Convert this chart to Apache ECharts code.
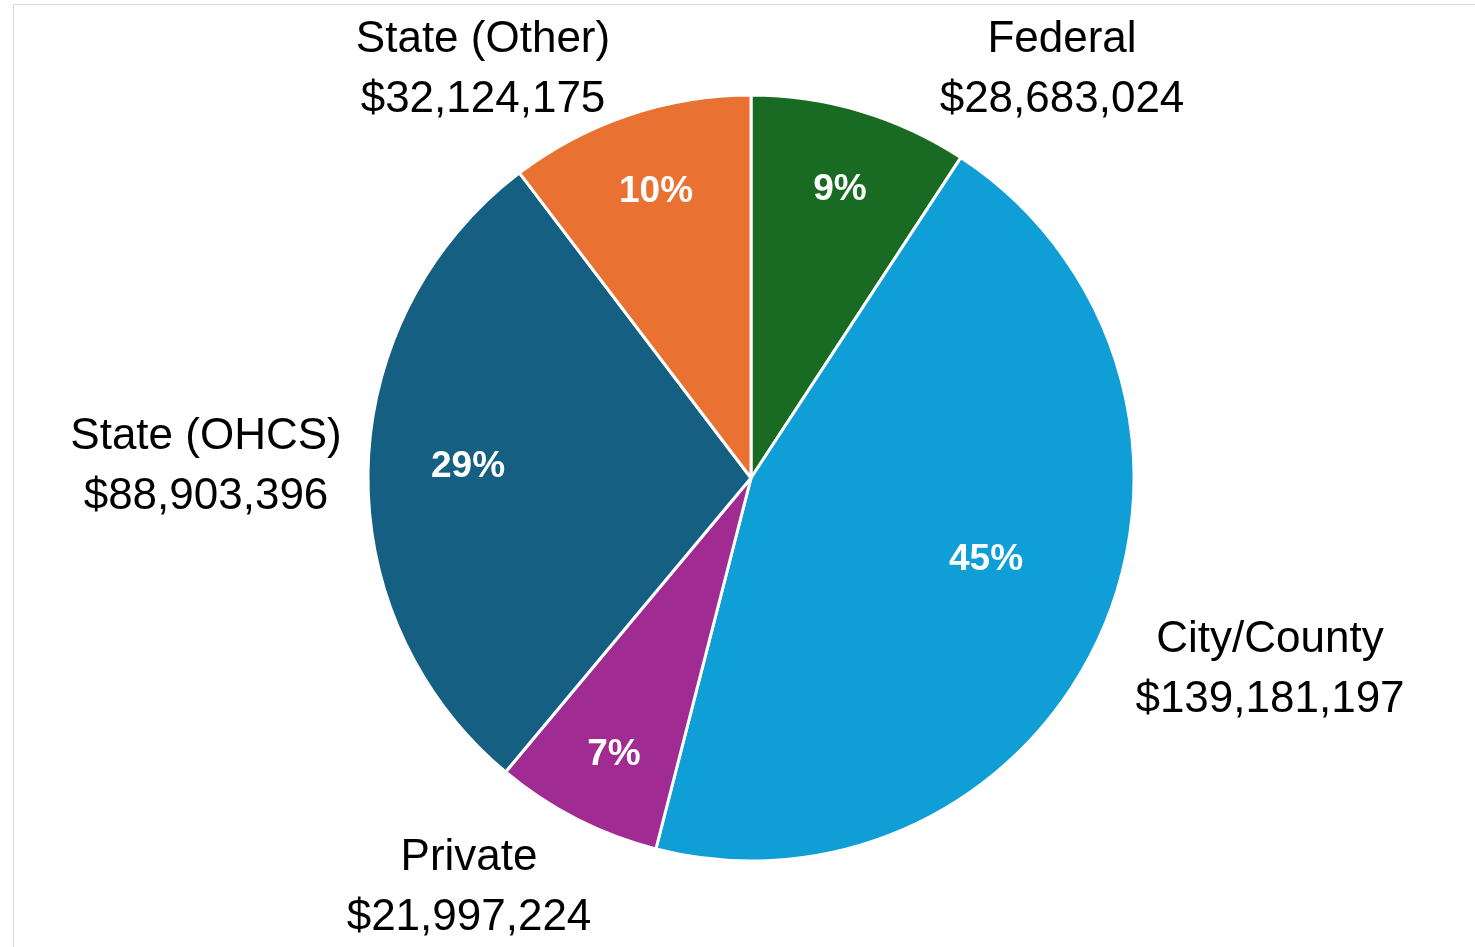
<!DOCTYPE html>
<html>
<head>
<meta charset="utf-8">
<script src="https://cdn.jsdelivr.net/npm/echarts@6/dist/echarts.min.js"></script>
<style>
  html, body { margin: 0; padding: 0; background: #fff; overflow: hidden; }
  #frame { position: absolute; left: 13px; top: 4px; width: 1500px; height: 1000px; border: 1px solid #d9d9d9; box-sizing: border-box; }
  #main { position: absolute; left: 0; top: 0; width: 1475px; height: 947px; }
</style>
</head>
<body>
<div id="frame"></div>
<div id="main"></div>
<script>
// data, clockwise from 12 o'clock
var names = ['Federal', 'City/County', 'Private', 'State (OHCS)', 'State (Other)'];
var amounts = [28683024, 139181197, 21997224, 88903396, 32124175];
var colors = ['#196B24', '#0F9ED5', '#A02B93', '#156082', '#E97132'];

// label spots (Excel "best fit" placement)
var outerPos = [[1062, 70], [1270, 670], [469, 888], [206, 467], [483, 70]];
var innerPos = [[840, 190], [986, 560], [614, 755], [468, 467], [656, 192]];

var total = amounts.reduce(function (a, b) { return a + b; }, 0);
var pieData = names.map(function (n, i) {
    return { name: n, value: amounts[i], itemStyle: { color: colors[i] } };
});

var myChart = echarts.init(document.getElementById('main'));
myChart.setOption({
    animation: false,
    series: [
        {
            type: 'pie',
            center: [751, 478],
            radius: 383,
            startAngle: 90,
            clockwise: true,
            itemStyle: { borderColor: '#fff', borderWidth: 3 },
            label: {
                position: 'inside',
                color: '#fff',
                fontFamily: 'Liberation Sans',
                fontWeight: 'bold',
                fontSize: 37,
                formatter: function (p) {
                    return Math.round(p.value / total * 100) + '%';
                }
            },
            labelLayout: function (p) {
                var pos = innerPos[p.dataIndex];
                return { x: pos[0], y: pos[1], align: 'center', verticalAlign: 'middle' };
            },
            data: pieData
        },
        {
            type: 'pie',
            silent: true,
            center: [751, 478],
            radius: 383,
            startAngle: 90,
            clockwise: true,
            itemStyle: { color: 'rgba(0,0,0,0)', borderWidth: 0 },
            labelLine: { show: false },
            label: {
                position: 'outside',
                color: '#000',
                fontFamily: 'Liberation Sans',
                fontSize: 44,
                lineHeight: 60,
                align: 'center',
                formatter: function (p) {
                    return p.name + '\n$' + p.value.toLocaleString('en-US');
                }
            },
            labelLayout: function (p) {
                var pos = outerPos[p.dataIndex];
                return { x: pos[0], y: pos[1], align: 'center', verticalAlign: 'middle', hideOverlap: false };
            },
            data: names.map(function (n, i) {
                return { name: n, value: amounts[i] };
            })
        }
    ]
});
</script>
</body>
</html>
